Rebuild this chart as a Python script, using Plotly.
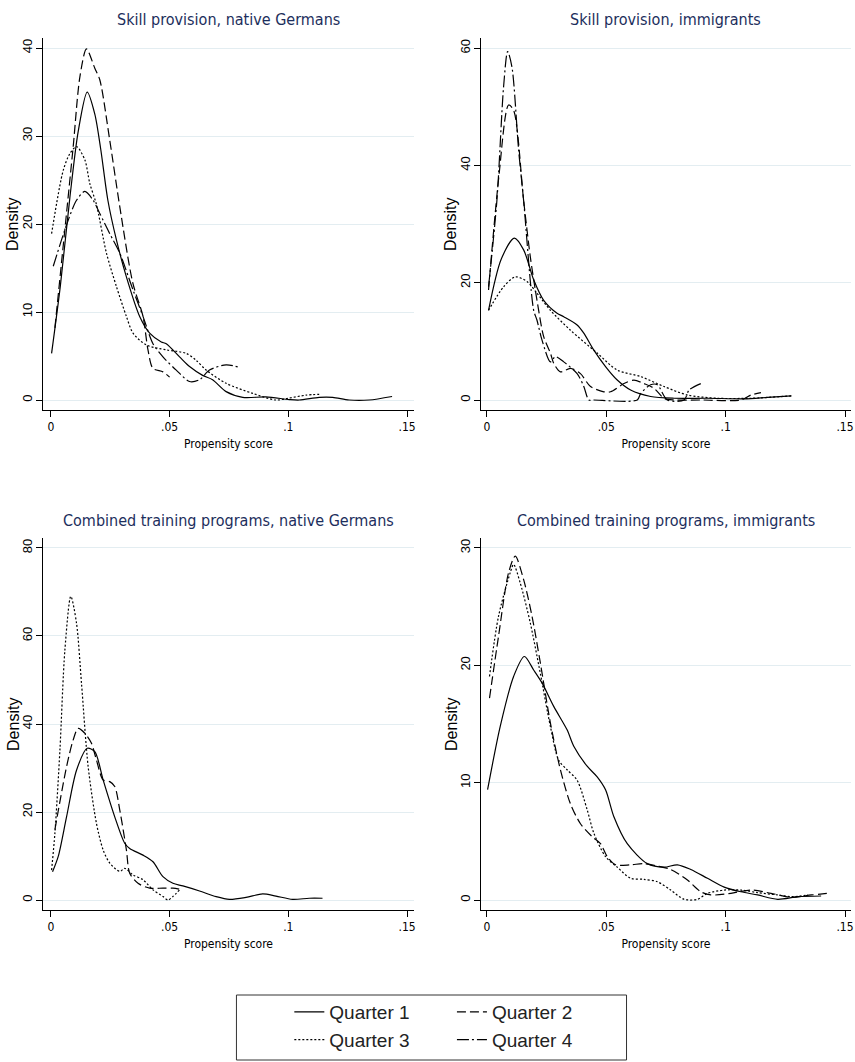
import plotly.graph_objects as go

# ---- labels and ticks ----
QUARTERS = ["Quarter 1", "Quarter 2", "Quarter 3", "Quarter 4"]
PANEL_TITLES = [
    "Skill provision, native Germans",
    "Skill provision, immigrants",
    "Combined training programs, native Germans",
    "Combined training programs, immigrants",
]
X_TICKS = [0, 0.05, 0.1, 0.15]
X_TICK_TEXT = ["0", ".05", ".1", ".15"]
Y_TICKS_P1 = [0, 10, 20, 30, 40]
Y_TICKS_P2 = [0, 20, 40, 60]
Y_TICKS_P3 = [0, 20, 40, 60, 80]
Y_TICKS_P4 = [0, 10, 20, 30]

# ---- kernel density estimates of the propensity score ----
# Skill provision, native Germans
sp_nat_q1_x = [0.0003, 0.004, 0.008, 0.0115, 0.0153, 0.0185, 0.021, 0.024, 0.0276, 0.0318, 0.0374, 0.0416,
               0.0465, 0.0486, 0.0542, 0.0584, 0.0639, 0.0681, 0.0738, 0.0808, 0.0906, 0.1004, 0.1046,
               0.113, 0.1187, 0.1256, 0.134, 0.1437]
sp_nat_q1_y = [5.3, 13.0, 23.0, 30.5, 35.0, 32.5, 28.5, 22.7, 18.2, 14.0, 9.5, 7.6,
               6.6, 6.4, 4.9, 3.8, 2.8, 2.3, 0.95, 0.3, 0.35, 0.05, 0.0,
               0.3, 0.3, 0.0, 0.0, 0.4]
sp_nat_q2_x = [0.0017, 0.005, 0.0094, 0.0122, 0.015, 0.0185, 0.0206, 0.0248, 0.029, 0.0345, 0.0388,
               0.0409, 0.043, 0.0472, 0.05]
sp_nat_q2_y = [8.2, 17.0, 28.8, 36.7, 39.9, 37.7, 36.4, 29.5, 22.0, 13.3, 9.5,
               5.7, 3.6, 3.2, 2.6]
sp_nat_q3_x = [0.0003, 0.0052, 0.008, 0.0108, 0.0143, 0.0164, 0.0192, 0.0234, 0.0276, 0.0318, 0.0346,
               0.0402, 0.0486, 0.057, 0.0612, 0.0654, 0.0738, 0.085, 0.0948, 0.1, 0.1074, 0.113]
sp_nat_q3_y = [18.9, 26.1, 28.0, 28.8, 27.3, 24.6, 22.2, 16.7, 12.9, 9.5, 7.6,
               6.25, 5.7, 5.3, 4.5, 3.4, 1.9, 0.75, 0.0, 0.2, 0.55, 0.65]
sp_nat_q4_x = [0.001, 0.0066, 0.0108, 0.0143, 0.0178, 0.0206, 0.0248, 0.029, 0.0346, 0.0388, 0.043,
               0.0472, 0.0528, 0.0584, 0.0626, 0.0668, 0.0738, 0.0794]
sp_nat_q4_y = [15.2, 19.9, 22.7, 23.7, 22.7, 21.2, 18.9, 16.7, 12.5, 9.5, 6.4,
               4.9, 3.4, 2.1, 2.3, 3.4, 4.0, 3.7]

# Skill provision, immigrants
sp_imm_q1_x = [0.0007, 0.006, 0.0115, 0.0154, 0.0196, 0.0238, 0.0294, 0.0322, 0.0378, 0.0406, 0.0448,
               0.0497, 0.0546, 0.0602, 0.0686, 0.0784, 0.0924, 0.1078, 0.1176, 0.1275]
sp_imm_q1_y = [15.3, 24.0, 27.6, 25.6, 20.5, 17.0, 14.8, 14.2, 12.8, 11.4, 8.5,
               5.7, 3.4, 1.7, 0.6, 0.3, 0.3, 0.2, 0.45, 0.7]
sp_imm_q2_x = [0.0007, 0.005, 0.0091, 0.0112, 0.0154, 0.0182, 0.021, 0.0238, 0.0266, 0.028, 0.0308,
               0.035, 0.0392, 0.0434, 0.049, 0.0518, 0.0574, 0.0616, 0.0658, 0.07, 0.0742, 0.0784,
               0.09, 0.1064, 0.1106, 0.1148]
sp_imm_q2_y = [18.75, 38.0, 50.3, 49.4, 34.0, 24.4, 17.0, 10.8, 8.0, 6.25, 4.8,
               5.4, 4.5, 2.3, 1.4, 1.4, 2.8, 3.4, 2.8, 2.0, 0.3, 0.0,
               0.0, 0.0, 0.85, 1.25]
sp_imm_q3_x = [0.0007, 0.007, 0.0119, 0.0168, 0.021, 0.0266, 0.035, 0.0462, 0.0546, 0.0644, 0.0742,
               0.084, 0.0966, 0.1106, 0.1275]
sp_imm_q3_y = [15.3, 19.3, 21.0, 20.2, 18.2, 15.3, 11.9, 8.0, 5.1, 4.0, 2.3,
               0.85, 0.3, 0.3, 0.7]
sp_imm_q4_x = [0.0007, 0.0042, 0.007, 0.0087, 0.0105, 0.0133, 0.0154, 0.0196, 0.021, 0.0231, 0.0266,
               0.0287, 0.0322, 0.0378, 0.0406, 0.0427, 0.0448, 0.063, 0.0644, 0.0686, 0.0714, 0.0756,
               0.0826, 0.0847, 0.0896]
sp_imm_q4_y = [19.3, 34.0, 53.4, 59.4, 56.8, 42.6, 34.0, 15.3, 13.6, 10.2, 6.5,
               7.4, 6.5, 4.5, 2.3, 0.0, 0.0, 0.0, 1.1, 2.6, 2.6, 0.0,
               0.0, 1.7, 2.8]

# Combined training programs, native Germans
ct_nat_q1_x = [0.0007, 0.0031, 0.0066, 0.0108, 0.0153, 0.0185, 0.022, 0.0269, 0.0311, 0.0332, 0.0388,
               0.043, 0.0472, 0.0514, 0.0556, 0.0626, 0.0696, 0.0752, 0.0822, 0.0892, 0.0948, 0.1018,
               0.1088, 0.1144]
ct_nat_q1_y = [6.4, 9.9, 18.9, 29.5, 34.5, 33.7, 27.3, 18.9, 12.9, 11.7, 10.2,
               8.7, 5.3, 3.8, 3.2, 2.05, 0.76, 0.15, 0.6, 1.4, 0.9, 0.15,
               0.4, 0.4]
ct_nat_q2_x = [0.0017, 0.0066, 0.0094, 0.0115, 0.0143, 0.0171, 0.0192, 0.022, 0.0248, 0.0269, 0.029,
               0.0318, 0.0332, 0.0367, 0.0416, 0.0472, 0.0514, 0.0556]
ct_nat_q2_y = [16.0, 30.3, 36.4, 39.0, 37.9, 35.6, 31.8, 27.3, 26.9, 25.8, 20.5,
               11.4, 6.1, 3.8, 2.7, 2.7, 2.7, 2.3]
ct_nat_q3_x = [0.0003, 0.0017, 0.0038, 0.0059, 0.0084, 0.0108, 0.0129, 0.0157, 0.0192, 0.022, 0.0248,
               0.029, 0.0311, 0.0346, 0.0388, 0.043, 0.0472, 0.0493, 0.0514, 0.0542]
ct_nat_q3_y = [6.8, 15.2, 34.0, 56.8, 69.0, 62.9, 49.2, 30.3, 17.4, 11.4, 8.4,
               6.5, 7.2, 5.7, 4.6, 2.3, 0.8, 0.0, 0.8, 2.3]

# Combined training programs, immigrants
ct_imm_q1_x = [0.0003, 0.0056, 0.0112, 0.0157, 0.0196, 0.0231, 0.028, 0.0336, 0.0364, 0.042, 0.0462,
               0.0497, 0.0532, 0.0588, 0.0672, 0.0742, 0.0798, 0.0854, 0.0924, 0.0994, 0.1064, 0.1134,
               0.1218, 0.1303, 0.14]
ct_imm_q1_y = [9.4, 14.8, 19.05, 20.75, 19.6, 18.5, 16.5, 14.5, 13.1, 11.4, 10.5,
               9.4, 7.1, 4.8, 3.1, 2.8, 3.0, 2.6, 1.85, 1.1, 0.7, 0.43,
               0.06, 0.28, 0.34]
ct_imm_q2_x = [0.0011, 0.0049, 0.0091, 0.0119, 0.0154, 0.0189, 0.0224, 0.0266, 0.0308, 0.035, 0.0392,
               0.0441, 0.0476, 0.0504, 0.0539, 0.0602, 0.0658, 0.0714, 0.077, 0.084, 0.0896, 0.0938,
               0.1022, 0.1106, 0.119, 0.1275, 0.1359, 0.1429]
ct_imm_q2_y = [17.2, 22.5, 27.9, 29.3, 27.3, 24.2, 20.2, 15.1, 11.1, 8.2, 6.5,
               5.4, 4.8, 3.7, 3.0, 3.0, 3.1, 2.9, 2.6, 1.7, 0.7, 0.43,
               0.57, 0.85, 0.57, 0.23, 0.43, 0.57]
ct_imm_q3_x = [0.0011, 0.0049, 0.0098, 0.0112, 0.014, 0.0182, 0.0224, 0.0266, 0.0301, 0.0336, 0.0378,
               0.042, 0.0448, 0.0497, 0.0546, 0.0602, 0.0658, 0.0714, 0.077, 0.0826, 0.0882, 0.0924,
               0.0994, 0.1064, 0.1134, 0.1218, 0.1275, 0.1345]
ct_imm_q3_y = [19.05, 24.2, 27.9, 28.6, 27.0, 23.6, 19.3, 14.8, 11.9, 11.1, 10.2,
               7.7, 5.7, 3.7, 2.8, 1.85, 1.76, 1.56, 0.85, 0.06, 0.06, 0.57,
               0.85, 0.85, 0.63, 0.43, 0.28, 0.43]

PANELS = [
    [(sp_nat_q1_x, sp_nat_q1_y), (sp_nat_q2_x, sp_nat_q2_y), (sp_nat_q3_x, sp_nat_q3_y), (sp_nat_q4_x, sp_nat_q4_y)],
    [(sp_imm_q1_x, sp_imm_q1_y), (sp_imm_q2_x, sp_imm_q2_y), (sp_imm_q3_x, sp_imm_q3_y), (sp_imm_q4_x, sp_imm_q4_y)],
    [(ct_nat_q1_x, ct_nat_q1_y), (ct_nat_q2_x, ct_nat_q2_y), (ct_nat_q3_x, ct_nat_q3_y), None],
    [(ct_imm_q1_x, ct_imm_q1_y), (ct_imm_q2_x, ct_imm_q2_y), (ct_imm_q3_x, ct_imm_q3_y), None],
]
Y_TICKS = [Y_TICKS_P1, Y_TICKS_P2, Y_TICKS_P3, Y_TICKS_P4]

# ---- styling ----
W, H = 855, 1062
DASHES = ["solid", "9px,4px", "2px,2px", "12px,3px,2px,3px"]
TITLE_COLOR = "#1c2e5c"
GRID_COLOR = "#e3edf1"
NARROW = "DejaVu Sans Condensed, Liberation Sans Narrow, Arial Narrow, sans-serif"
REGULAR = "Liberation Sans, Arial, sans-serif"

# plot-area boxes in pixels (left, right, top, bottom)
BOXES = [(43, 415, 38, 410), (482, 853, 38, 410), (43, 415, 538, 910), (482, 853, 538, 910)]
X_RANGES = [[-0.00336, 0.15294], [-0.00251, 0.15251], [-0.00336, 0.15294], [-0.00251, 0.15251]]
Y_RANGES = [[-1.136, 41.14], [-1.705, 61.72], [-2.27, 82.27], [-0.852, 30.85]]
TITLE_Y_PX = [20, 20, 520, 520]

fig = go.Figure()

for p, series in enumerate(PANELS):
    sfx = "" if p == 0 else str(p + 1)
    for q, s in enumerate(series):
        if s is None:
            continue
        xs, ys = s
        in_legend = p == 1
        fig.add_trace(go.Scatter(
            x=xs, y=ys, mode="lines", name=QUARTERS[q],
            line=dict(color="black", width=1.2, dash=DASHES[q], shape="spline", smoothing=0.8),
            xaxis="x" + sfx, yaxis="y" + sfx,
            showlegend=in_legend,
            legend="legend" if q in (0, 2) else "legend2",
            hoverinfo="skip",
        ))

    l, r, t, b = BOXES[p]
    fig.layout["xaxis" + sfx] = dict(
        domain=[l / W, r / W], anchor="y" + sfx, range=X_RANGES[p],
        tickvals=X_TICKS, ticktext=X_TICK_TEXT, ticks="outside", ticklen=6,
        tickcolor="black", showline=True, linecolor="black", linewidth=1,
        showgrid=False, zeroline=False,
        tickfont=dict(family=NARROW, size=12, color="black"),
        title=dict(text="Propensity score", standoff=6,
                   font=dict(family=NARROW, size=12, color="black")),
    )
    fig.layout["yaxis" + sfx] = dict(
        domain=[1 - b / H, 1 - t / H], anchor="x" + sfx, range=Y_RANGES[p],
        tickvals=Y_TICKS[p], ticks="outside", ticklen=6, tickangle=-90,
        ticklabelstandoff=-1,
        tickcolor="black", showline=True, linecolor="black", linewidth=1,
        showgrid=True, gridcolor=GRID_COLOR, gridwidth=1, zeroline=False,
        tickfont=dict(family=REGULAR, size=13, color="black"),
    )
    fig.add_annotation(
        text=PANEL_TITLES[p], xref="paper", yref="paper",
        x=(l + r) / 2 / W, y=1 - TITLE_Y_PX[p] / H, xanchor="center", yanchor="middle",
        showarrow=False, font=dict(family=NARROW, size=16, color=TITLE_COLOR),
    )
    # vertical axis title
    fig.add_annotation(
        text="Density", xref="paper", yref="paper",
        x=(l - 30) / W, y=1 - (t + b) / 2 / H, xanchor="center", yanchor="middle",
        textangle=-90, showarrow=False,
        font=dict(family=REGULAR, size=16, color="black"),
    )

# legend frame around both legend columns
fig.add_shape(type="rect", xref="paper", yref="paper",
              x0=237 / W, x1=628 / W, y0=1 - 1060 / H, y1=1 - 995 / H,
              line=dict(color="#333333", width=1), fillcolor="rgba(0,0,0,0)")

legend_common = dict(
    orientation="v", yanchor="top", xanchor="left", y=1 - 993 / H,
    font=dict(family=REGULAR, size=19, color="#222222"),
    bgcolor="rgba(0,0,0,0)", borderwidth=0, tracegroupgap=0, itemwidth=30,
)
fig.update_layout(
    width=W, height=H, margin=dict(l=0, r=0, t=0, b=0),
    paper_bgcolor="white", plot_bgcolor="white",
    legend=dict(x=290 / W, **legend_common),
    legend2=dict(x=453 / W, **legend_common),
)

fig.write_html("out.html")
